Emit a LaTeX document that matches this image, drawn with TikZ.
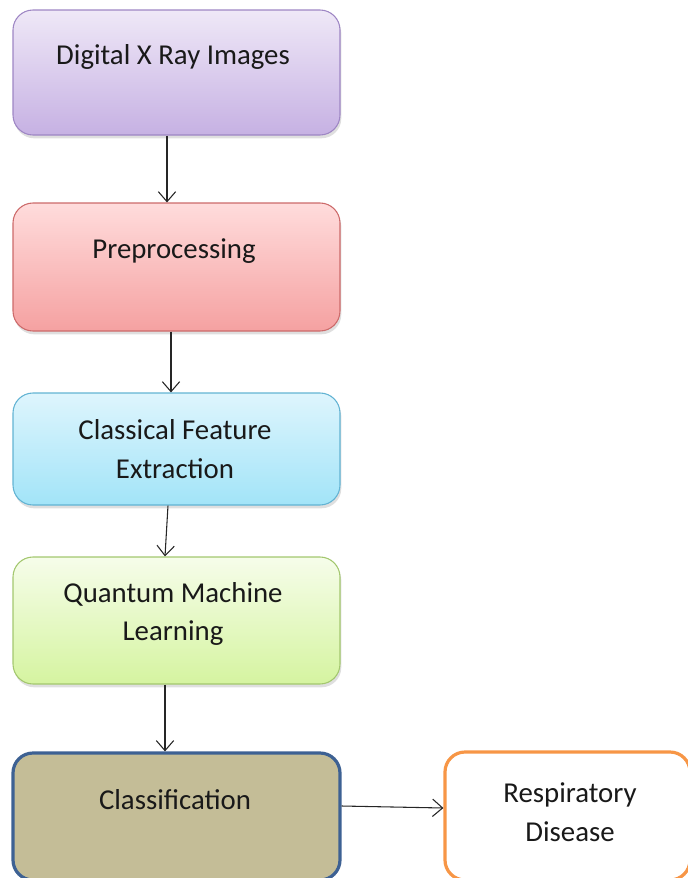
\documentclass[tikz,border=0pt]{standalone}
\usepackage{fontspec}
\setmainfont{Carlito}
\usetikzlibrary{arrows.meta,shadows}
\definecolor{lavtop}{HTML}{EFE8F7}
\definecolor{lavbot}{HTML}{C6B1E3}
\definecolor{lavline}{HTML}{9E86C4}
\definecolor{redtop}{HTML}{FFDCDC}
\definecolor{redbot}{HTML}{F5A1A1}
\definecolor{redline}{HTML}{CC6A6A}
\definecolor{cyantop}{HTML}{DEF5FD}
\definecolor{cyanbot}{HTML}{A2E4F8}
\definecolor{cyanline}{HTML}{62B3D3}
\definecolor{greentop}{HTML}{F6FDEA}
\definecolor{greenbot}{HTML}{D5F4A0}
\definecolor{greenline}{HTML}{A3C76E}
\definecolor{khaki}{HTML}{C4BD97}
\definecolor{navyline}{HTML}{3D6193}
\definecolor{orangeline}{HTML}{F79646}
\tikzset{
  stage/.style={rounded corners=15pt, minimum width=245.25pt, line width=0.8pt},
  shade box/.style={stage, drop shadow={shadow xshift=1pt, shadow yshift=-2.5pt, opacity=0.25}},
  txt/.style={align=center, font=\fontsize{21.6pt}{29pt}\selectfont, text=black!90},
  flow/.style={-{Straight Barb[length=7.5pt,width=13pt]}, draw=black!85, line width=0.8pt}
}
\begin{document}
\begin{tikzpicture}[x=0.75pt, y=-0.75pt]
				\useasboundingbox (0,0) rectangle (688,878);
				\clip (0,0) rectangle (688,878);
				% boxes
				\node[shade box, draw=lavline, top color=lavtop, bottom color=lavbot, minimum height=93.75pt] (xray) at (176.5,72.5) {};
				\node[shade box, draw=redline, top color=redtop, bottom color=redbot, minimum height=96pt] (prep) at (176.5,267) {};
				\node[shade box, draw=cyanline, top color=cyantop, bottom color=cyanbot, minimum height=84pt] (feat) at (176.5,449) {};
				\node[shade box, draw=greenline, top color=greentop, bottom color=greenbot, minimum height=95.25pt] (qml) at (176.5,620.5) {};
				\node[stage, draw=navyline, fill=khaki, line width=2.4pt, minimum height=95.25pt] (cls) at (176.5,816.5) {};
				\node[stage, draw=orangeline, fill=white, line width=2.4pt, minimum width=183.75pt, minimum height=96pt] (resp) at (567.5,816) {};
				% labels
				\node[txt] (xray-t) at (173,57) {Digital X Ray Images};
				\node[txt] (prep-t) at (174,251) {Preprocessing};
				\node[txt] (feat-t) at (175,449) {Classical Feature\\Extraction};
				\node[txt] (qml-t) at (173,614) {Quantum Machine\\Learning};
				\node[txt] (cls-t) at (175,800) {Classification};
				\node[txt] (resp-t) at (570,812) {Respiratory\\Disease};
				% arrows
				\draw[flow] (xray.south -| 167,0) -- (prep.north -| 167,0);
				\draw[flow] (prep.south -| 171,0) -- (feat.north -| 171,0);
				\draw[flow] (feat.south -| 168,0) -- (qml.north -| 165,0);
				\draw[flow] (qml.south -| 165,0) -- (cls.north -| 165,0);
				\draw[flow] (cls.east |- 0,806) -- (resp.west |- 0,808);
			\end{tikzpicture}
\end{document}
